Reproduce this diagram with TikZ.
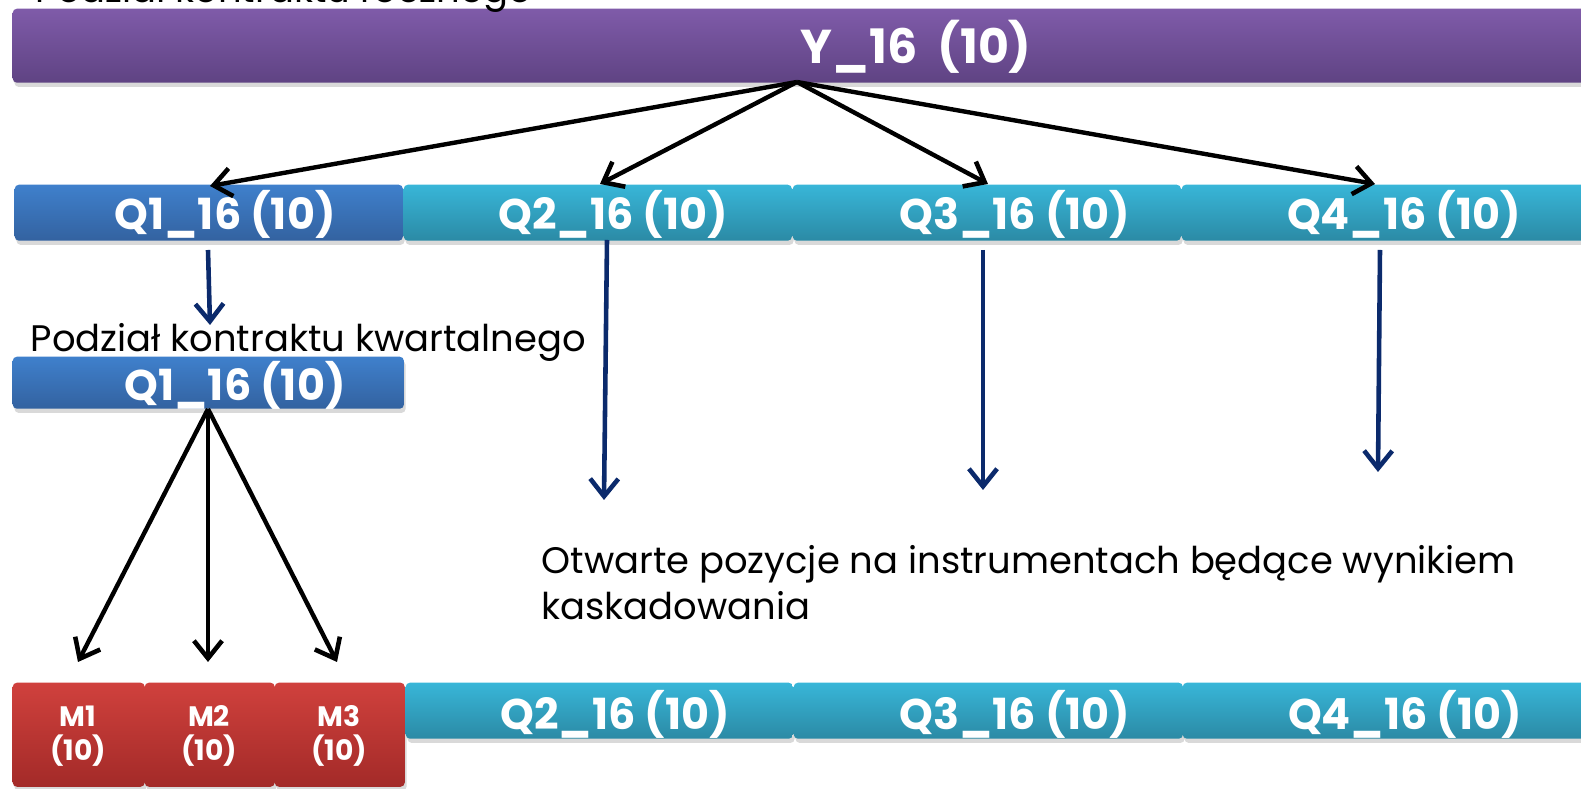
\documentclass[tikz,border=0pt]{standalone}
\usepackage{fontspec}
\setmainfont{Poppins}
\usetikzlibrary{arrows.meta,shadows}

\definecolor{purpT}{HTML}{7F5BA9}
\definecolor{purpB}{HTML}{5F4383}
\definecolor{blueT}{HTML}{3F80CC}
\definecolor{blueB}{HTML}{3362A0}
\definecolor{tealT}{HTML}{38B6D8}
\definecolor{tealB}{HTML}{2B8AA5}
\definecolor{redT}{HTML}{D0413D}
\definecolor{redB}{HTML}{A32A28}
\definecolor{navy}{HTML}{0B2A6C}

\begin{document}
\begin{tikzpicture}[x=0.01cm,y=-0.01cm,
    bar/.style={rounded corners=1.2pt,anchor=north west,inner sep=0pt,
                drop shadow={shadow xshift=0.5pt,shadow yshift=-1.2pt,opacity=0.3}},
    ybar/.style={bar,top color=purpT,bottom color=purpB,minimum height=0.74cm},
    qbar/.style={bar,top color=blueT,bottom color=blueB},
    tbar/.style={bar,top color=tealT,bottom color=tealB,minimum height=0.56cm},
    mbar/.style={bar,top color=redT,bottom color=redB,minimum height=1.04cm},
    lab/.style={text=white,font=\bfseries\fontsize{12.2}{13}\selectfont},
    mlab/.style={text=white,align=center,font=\bfseries\fontsize{8}{9.5}\selectfont},
    txt/.style={anchor=base west,inner sep=0pt,font=\fontsize{10.5}{13}\selectfont},
    blk/.style={->,>={Straight Barb[length=5pt,width=8pt,line width=1.3pt]},line width=1.25pt},
    nav/.style={->,>={Straight Barb[length=5pt,width=8pt,line width=1.3pt]},line width=1.3pt,navy}]
  \useasboundingbox (0,0) rectangle (1581,789);

  % pasek roczny
  \node[ybar,minimum width=16cm]                 (Y)  at (12,8)    {};
  \node[lab,font=\bfseries\fontsize{13.5}{14}\selectfont] at (916,47) {Y\_16\ \ (10)};
  \node[txt] (Troczny) at (35,3) {Podział kontraktu rocznego};

  % kwartaly
  \node[qbar,minimum width=3.88cm,minimum height=0.56cm] (Q1) at (14,184)   {};
  \node[tbar,minimum width=3.88cm]               (Q2) at (403,184)  {};
  \node[tbar,minimum width=3.88cm]               (Q3) at (792,184)  {};
  \node[tbar,minimum width=4.2cm]                (Q4) at (1181,184) {};
  \node[lab] at (225,214)  {Q1\_16 (10)};
  \node[lab] at (613,214)  {Q2\_16 (10)};
  \node[lab] at (1015,214) {Q3\_16 (10)};
  \node[lab] at (1404,214) {Q4\_16 (10)};

  % podzial kwartalu
  \node[txt] (Tkwart) at (30,352) {Podział kontraktu kwartalnego};
  \node[qbar,minimum width=3.91cm,minimum height=0.52cm] (Q1b) at (12,356) {};
  \node[lab] at (235,385) {Q1\_16 (10)};

  % miesiace
  \node[mbar,minimum width=1.32cm] (M1) at (12,682)  {};
  \node[mbar,minimum width=1.30cm] (M2) at (144,682) {};
  \node[mbar,minimum width=1.30cm] (M3) at (274,682) {};
  \node[mlab] at (78,736)  {M1\\(10)};
  \node[mlab] at (209,736) {M2\\(10)};
  \node[mlab] at (339,736) {M3\\(10)};

  \node[tbar,minimum width=3.87cm] (Q2b) at (405,682)  {};
  \node[tbar,minimum width=3.89cm] (Q3b) at (793,682)  {};
  \node[tbar,minimum width=4.2cm]  (Q4b) at (1182,682) {};
  \node[lab] at (615,714)  {Q2\_16 (10)};
  \node[lab] at (1015,714) {Q3\_16 (10)};
  \node[lab] at (1405,714) {Q4\_16 (10)};

  \node[txt,align=left,anchor=north west] (Totw) at (541,545)
       {Otwarte pozycje na instrumentach będące wynikiem\\kaskadowania};

  % punkty strzalek
  \coordinate (Ys)  at (797,82);
  \coordinate (q1t) at (210,186);
  \coordinate (q2t) at (600,184);
  \coordinate (q3t) at (988,184);
  \coordinate (q4t) at (1375,184);
  \coordinate (q1s) at (208,250);  \coordinate (q1e) at (210,325);
  \coordinate (q2s) at (607,240);  \coordinate (q2e) at (604,500);
  \coordinate (q3s) at (983,250);  \coordinate (q3e) at (983,490);
  \coordinate (q4s) at (1380,250); \coordinate (q4e) at (1378,472);
  \coordinate (Qbs) at (208,409);
  \coordinate (m1t) at (78,662);
  \coordinate (m2t) at (208,662);
  \coordinate (m3t) at (337,662);

  \foreach \e in {q1t,q2t,q3t,q4t}
    \draw[blk] (Ys) -- (\e);
  \foreach \s/\e in {q1s/q1e,q2s/q2e,q3s/q3e,q4s/q4e}
    \draw[nav] (\s) -- (\e);
  \foreach \e in {m1t,m2t,m3t}
    \draw[blk] (Qbs) -- (\e);
\end{tikzpicture}
\end{document}
